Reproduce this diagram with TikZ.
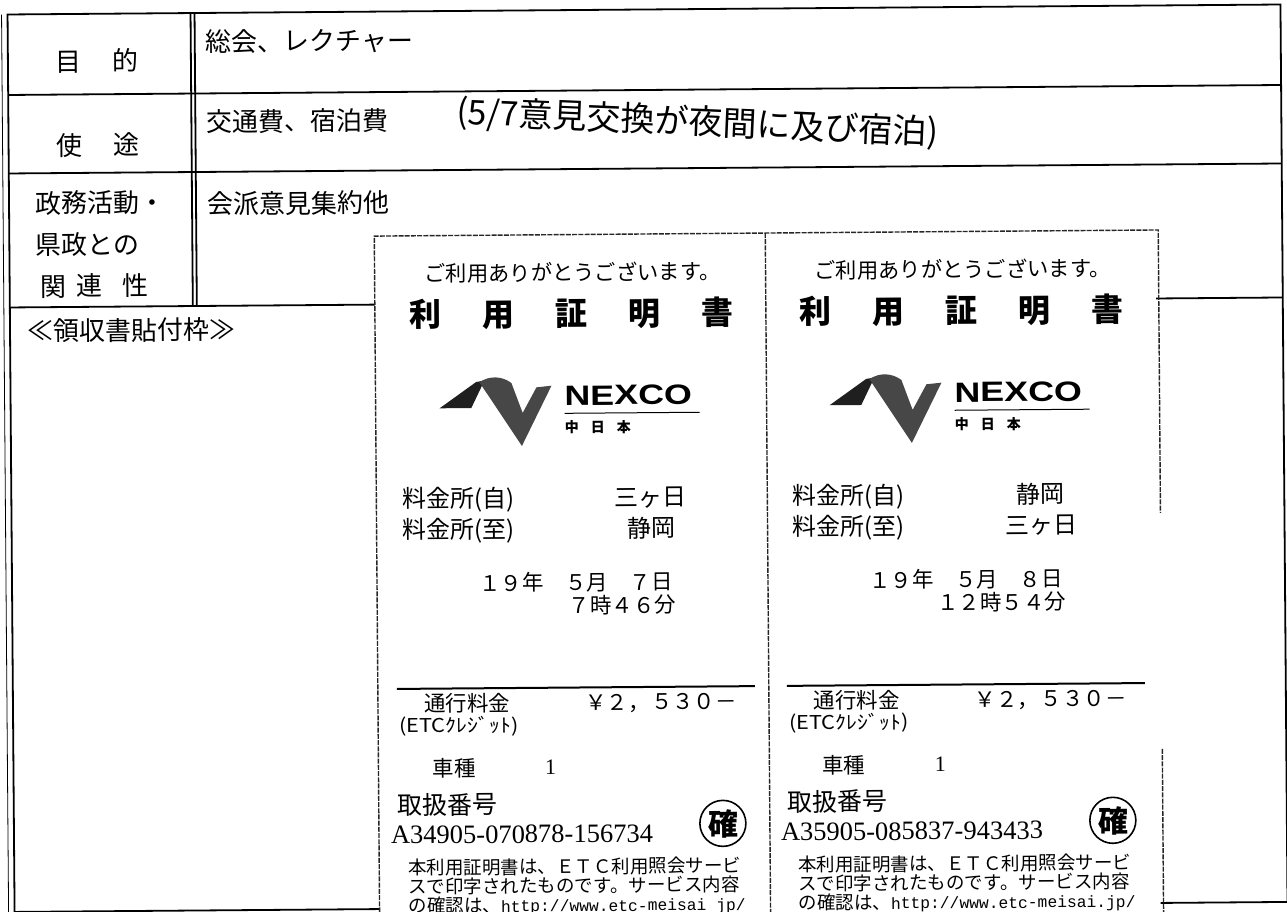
\documentclass[tikz,border=0pt]{standalone}
\usepackage{fontspec}
\newfontfamily\jp{Noto Sans CJK JP}
\newfontfamily\lser{Liberation Serif}
\newfontfamily\lmono{Liberation Mono}
\newfontfamily\lsans{Liberation Sans}
\newcommand\myfs[1]{\fontsize{#1}{#1}\selectfont}
\tikzset{
  tline/.style={line width=1.8pt, black},
  perf/.style={line width=1.4pt, dash pattern=on 5pt off 1.2pt, black!85},
  txt/.style={inner sep=0pt, outer sep=0pt, transform shape},
}
\newcommand\receipt[8]{%
\begin{scope}[xshift=#1]
  \fill[white] (376,234) rectangle (767,960);
  \node[txt,anchor=base,font=\jp\myfs{21.3}] (#2thanks) at (574,280) {ご利用ありがとうございます。};
  \node[txt,anchor=base,font=\jp\bfseries\myfs{32}] (#2title) at (573,325) {利\hspace{41pt}用\hspace{41pt}証\hspace{41pt}明\hspace{41pt}書};
  % logo
  \fill[black!88] (440,406.7) -- (476.7,380.7) -- (485,379.3) -- (471.7,406.7) -- cycle;
  \fill[black!72] (480,381) .. controls (490,374) and (503,375) .. (512,382) -- (523,412) -- (537,386.5) -- (552,385) -- (522,445) -- cycle;
  \node[txt,anchor=west] (#2nexco) at (565,395) {\scalebox{1.28}[1]{\lsans\bfseries\myfs{28}NEXCO}};
  \draw[line width=1pt] (565,412.7) -- (700,412.7);
  \node[txt,anchor=base west,font=\jp\bfseries\myfs{14}] (#2chu) at (565,432) {中\hspace{12pt}日\hspace{12pt}本};
  % toll gates
  \node[txt,anchor=base west,font=\jp\myfs{24}] (#2fromlab) at (402,506) {料金所(自)};
  \node[txt,anchor=base,font=\jp\myfs{24}] (#2from) at (650,506) {#3};
  \node[txt,anchor=base west,font=\jp\myfs{24}] (#2tolab) at (402,537) {料金所(至)};
  \node[txt,anchor=base,font=\jp\myfs{24}] (#2to) at (651,537) {#4};
  \node[txt,anchor=base west,font=\jp\myfs{21.5}] (#2date) at (478,590) {１９年　５月　#5日};
  \node[txt,anchor=base east,font=\jp\myfs{21.5}] (#2time) at (675,613) {#6};
  % fee
  \draw[line width=2pt] (395,687) -- (753,687);
  \node[txt,anchor=base west,font=\jp\myfs{21.5}] (#2feelab) at (422,710) {通行料金};
  \node[txt,anchor=base west,font=\jp\myfs{21.5}] (#2yen) at (583,710) {￥２，};
  \node[txt,anchor=base east,font=\jp\myfs{21.5}] (#2fee) at (735,710) {５３０－};
  \node[txt,anchor=base west] (#2etc) at (397,731) {\scalebox{1.15}[1]{\jp\myfs{19}(ETCｸﾚｼﾞｯﾄ)}};
  \node[txt,anchor=base west,font=\jp\myfs{21.5}] (#2kindlab) at (430,775) {車種};
  \node[txt,anchor=base,font=\lser\myfs{22}] (#2kind) at (548,774) {1};
  \node[txt,anchor=base west,font=\jp\myfs{25}] (#2idlab) at (395,812.5) {取扱番号};
  \node[txt,anchor=base west,font=\lser\myfs{26.5}] (#2id) at (388,842) {#7};
  \node[circle,draw,line width=1.6pt,minimum size=46pt,inner sep=0pt,transform shape] (#2stamp) at (720,824) {};
  \node[txt,font=\jp\bfseries\myfs{30}] (#2kaku) at (721,825) {確};
  \node[txt,anchor=base west,font=\jp\myfs{18.5}] (#2foot1) at (405,873) {本利用証明書は、ＥＴＣ利用照会サービ};
  \node[txt,anchor=base west,font=\jp\myfs{18.5}] (#2foot2) at (405,892) {スで印字されたものです。サービス内容};
  \node[txt,anchor=base west,font=\jp\myfs{18.5}] (#2foot3) at (405,911) {の確認は、{\lmono\myfs{16.3}#8}};
\end{scope}}

\begin{document}
\begin{tikzpicture}[x=1pt,y=-1pt]
\useasboundingbox (0,0) rectangle (1287,912);
\fill[white] (0,0) rectangle (1287,912);
\clip (0,0) rectangle (1287,912);
\begin{scope}[rotate around={0.45:(643,456)}]
  % table frame
  \draw[line width=0.8pt] (5,9.5) -- (5,907);
  \draw[tline] (11,9.5) -- (1284,9.5) -- (1284,907) -- (11,907) -- cycle;
  \draw[tline] (11,90) -- (1284,90);
  \draw[tline] (11,168.5) -- (1284,168.5);
  \draw[tline] (11,302.5) -- (1284,302.5);
  \draw[tline] (194,9.5) -- (194,302.5);
  \draw[tline] (198,9.5) -- (198,302.5);
  % labels
  \node[txt,anchor=base,font=\jp\myfs{26}] (lpurpose) at (100,66.6) {目\hspace{31pt}的};
  \node[txt,anchor=base,font=\jp\myfs{26}] (luse) at (100,150.6) {使\hspace{31pt}途};
  \node[txt,anchor=base west,font=\jp\myfs{26}] (lrel1) at (37,208.4) {政務活動・};
  \node[txt,anchor=base west,font=\jp\myfs{26}] (lrel2) at (37,250) {県政との};
  \node[txt,anchor=base west,font=\jp\myfs{26}] (lrel3) at (42,291.4) {関\hspace{10pt}連\hspace{20pt}性};
  \node[txt,anchor=base west,font=\jp\myfs{26}] (lreceipt) at (28,336) {≪領収書貼付枠≫};
  % contents
  \node[txt,anchor=base west,font=\jp\myfs{26}] (cpurpose) at (209,48) {総会、レクチャー};
  \node[txt,anchor=base west,font=\jp\myfs{26}] (cuse) at (209,128) {交通費、宿泊費};
  \node[txt,anchor=base west,font=\jp\myfs{26}] (crel) at (209,210.4) {会派意見集約他};
  \node[txt,font=\jp\myfs{34},rotate=-2.9] (hand) at (700,123.5) {(5/7意見交換が夜間に及び宿泊)};
  % receipts
  \receipt{0}{L}{三ヶ日}{静岡}{７}{７時４６分}{A34905-070878-156734}{http://www.etc-meisai jp/}
  \receipt{390}{R}{静岡}{三ヶ日}{８}{１２時５４分}{A35905-085837-943433}{http://www.etc-meisai.jp/}
  \draw[perf] (376,960) -- (376,234) -- (1160,234) -- (1160,517);
  \draw[perf] (1160,753) -- (1160,960);
  \draw[perf] (767,234) -- (767,960);
\end{scope}
\end{tikzpicture}
\end{document}
